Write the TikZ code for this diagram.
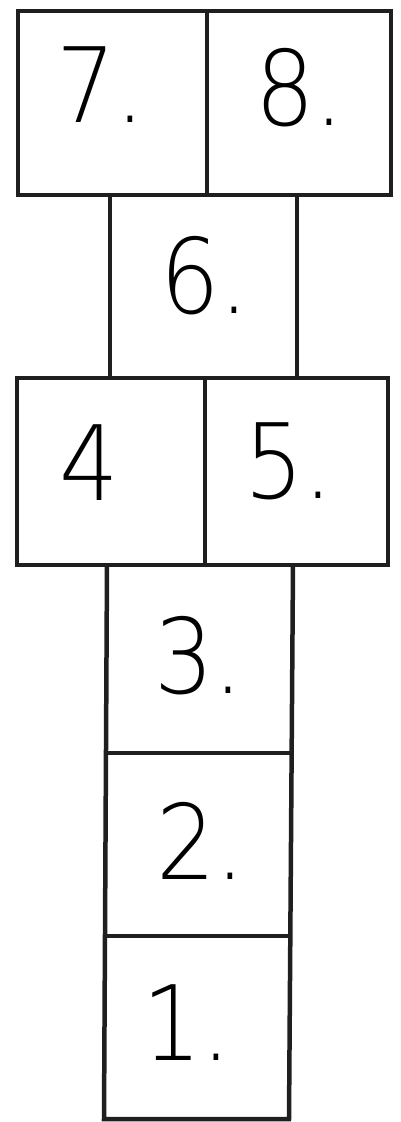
\documentclass[tikz,border=0pt]{standalone}
\usepackage{fontspec}
\newfontfamily\handfont{DejaVu Sans ExtraLight}
\tikzset{
  court/.style={line width=4.5pt, draw=black!88, line join=miter},
  numlabel/.style={inner sep=0pt, font=\handfont\fontsize{104}{104}\selectfont}
}
\begin{document}
\begin{tikzpicture}[x=1pt,y=-1pt]
	\useasboundingbox (0,0) rectangle (401,1122);
	% top double field
	\draw[court] (18,11) rectangle (391,195);
	\draw[court] (207,11) -- (207,195);
	% single field 6
	\draw[court] (110,195) -- (110,378);
	\draw[court] (297,195) -- (297,378);
	% middle double field
	\draw[court] (17,378) rectangle (388,565);
	\draw[court] (205,378) -- (205,565);
	% column of fields 3, 2, 1
	\draw[court] (107,565) -- (104,1119) -- (289,1119) -- (293,565);
	\draw[court] (106,753) -- (292,753);
	\draw[court] (105,936) -- (290,936);
	% numbers
	\node[numlabel] (n7) at (101,85) {\scalebox{0.9}[1]{7.}};
	\node[numlabel] (n8) at (300,88) {\scalebox{0.9}[1]{8.}};
	\node[numlabel] (n6) at (205,276) {\scalebox{0.9}[1]{6.}};
	\node[numlabel] (n4) at (89,463) {\scalebox{0.9}[1]{4}};
	\node[numlabel] (n5) at (289,461) {\scalebox{0.9}[1]{5.}};
	\node[numlabel] (n3) at (199,656) {\scalebox{0.9}[1]{3.}};
	\node[numlabel] (n2) at (201,841) {\scalebox{0.9}[1]{2.}};
	\node[numlabel] (n1) at (187,1023) {\scalebox{0.9}[1]{1.}};
\end{tikzpicture}
\end{document}
